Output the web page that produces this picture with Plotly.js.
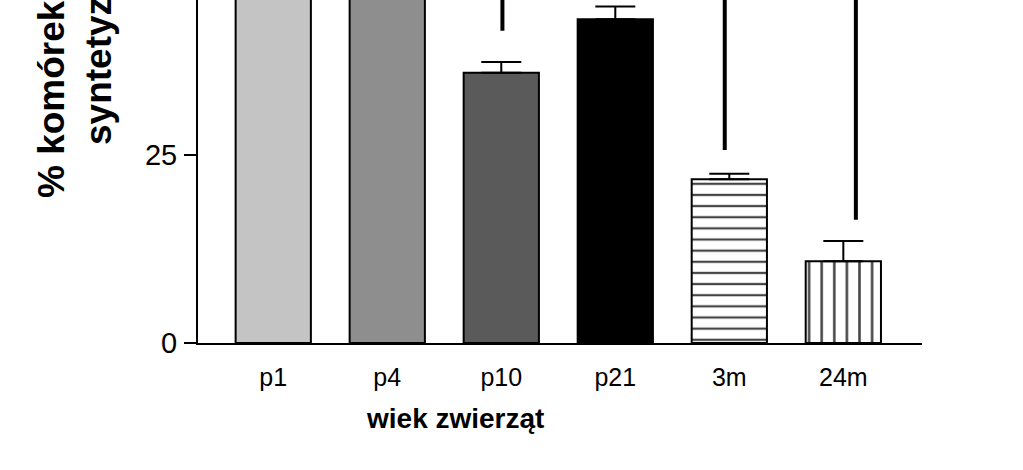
<!DOCTYPE html>
<html>
<head>
<meta charset="utf-8">
<script src="https://cdn.plot.ly/plotly-3.0.1.min.js"></script>
<style>html,body{margin:0;padding:0;background:#fff;}#chart{width:1023px;height:470px;}</style>
</head>
<body>
<div id="chart"></div>
<script>
// Data
var categories = ['p1', 'p4', 'p10', 'p21', '3m', '24m'];
var values = [52, 49, 36.0, 43.1, 21.8, 10.9];
var errorsUp = [0, 0, 1.43, 1.73, 0.75, 2.67];
var barColors = ['#c4c4c4', '#8e8e8e', '#5a5a5a', '#000000', '#ffffff', '#ffffff'];
var patternShapes = ['', '', '', '', '-', '|'];
var patternSizes = [8, 8, 8, 8, 11.14, 12.6];
// significance bracket legs (category position, lower end value)
var sigX = [2.01, 3.96, 5.11];
var sigFrom = [41.6, 25.7, 16.4];
var sigTo = 60;
var yTicks = [0, 25];
var xTitle = 'wiek zwierząt';
var yTitleLine1 = '% komórek';
var yTitleLine2 = 'syntetyzujących';

var font = 'Liberation Sans, Arial, sans-serif';

var trace = {
  type: 'bar',
  x: categories,
  y: values,
  width: 0.66,
  marker: {
    color: barColors,
    line: {color: '#000', width: 2},
    pattern: {shape: patternShapes, size: patternSizes, solidity: 0.2, fgcolor: '#000000',
              bgcolor: barColors, fgopacity: 1, fillmode: 'overlay'}
  },
  error_y: {type: 'data', array: errorsUp, arrayminus: categories.map(function(){return 0;}), symmetric: false,
            color: '#000', thickness: 2, width: 20},
  hoverinfo: 'none'
};

var shapes = sigX.map(function(x, i){
  return {type: 'line', xref: 'x', yref: 'y', x0: x, x1: x, y0: sigFrom[i], y1: sigTo,
          line: {color: '#000', width: 4}};
});

var layout = {
  width: 1023, height: 470,
  margin: {l: 198, r: 101, t: 0, b: 127},
  paper_bgcolor: '#fff', plot_bgcolor: '#fff',
  showlegend: false,
  font: {family: font, color: '#000'},
  xaxis: {
    type: 'category', range: [-0.66, 5.69], showline: true, linecolor: '#000', linewidth: 2,
    ticks: '', showgrid: false, zeroline: false, tickfont: {size: 25, family: font},
    ticklabelstandoff: 11
  },
  yaxis: {
    range: [0, 45.68], tickvals: yTicks, ticktext: yTicks.map(String), showline: true, linecolor: '#000', linewidth: 2,
    ticks: 'outside', ticklen: 12, tickwidth: 2, tickcolor: '#000', showgrid: false, zeroline: false,
    tickfont: {size: 29, family: font}, ticklabelstandoff: 1
  },
  shapes: shapes,
  annotations: [
    {text: '<b>' + xTitle + '</b>', xref: 'paper', yref: 'paper', x: (455 - 198) / 724, y: -0.17,
     xanchor: 'center', yanchor: 'top', showarrow: false, font: {size: 28, family: font}},
    {text: '<b>' + yTitleLine1 + '</b>', xref: 'paper', yref: 'paper', x: (52 - 198) / 724, y: (343 - 200) / 343,
     xanchor: 'center', yanchor: 'bottom', textangle: -90, showarrow: false, font: {size: 37, family: font}},
    {text: '<b>' + yTitleLine2 + '</b>', xref: 'paper', yref: 'paper', x: (98 - 198) / 724, y: (343 - 147) / 343,
     xanchor: 'center', yanchor: 'bottom', textangle: -90, showarrow: false, font: {size: 37, family: font}}
  ]
};

Plotly.newPlot('chart', [trace], layout, {staticPlot: true, displayModeBar: false});
</script>
</body>
</html>
